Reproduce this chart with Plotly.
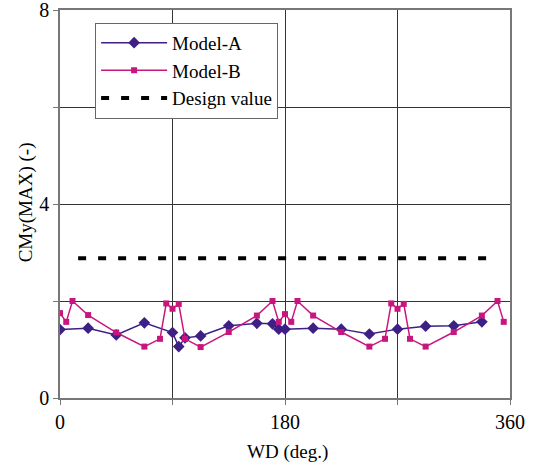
import plotly.graph_objects as go

# Data
wd_a = [0, 22.5, 45, 67.5, 90, 95, 100, 112.5, 135, 157.5, 170, 175, 180,
        202.5, 225, 247.5, 270, 292.5, 315, 337.5]
cmy_a = [1.41, 1.44, 1.30, 1.55, 1.35, 1.06, 1.24, 1.28, 1.49, 1.54, 1.53, 1.42, 1.42,
         1.44, 1.42, 1.32, 1.42, 1.48, 1.49, 1.57]

wd_b = [0, 5, 10, 22.5, 45, 67.5, 80, 85, 90, 95, 100, 112.5, 135, 157.5, 170, 175,
        180, 185, 190, 202.5, 225, 247.5, 260, 265, 270, 275, 280, 292.5, 315, 337.5,
        350, 355]
cmy_b = [1.75, 1.57, 2.00, 1.71, 1.35, 1.06, 1.22, 1.95, 1.84, 1.94, 1.22, 1.05, 1.36,
         1.70, 2.00, 1.57, 1.73, 1.57, 2.00, 1.70, 1.36, 1.06, 1.22, 1.95, 1.84, 1.94,
         1.22, 1.06, 1.36, 1.70, 2.00, 1.57]

design_wd = [14.5, 350]
design_val = [2.88, 2.88]

x_ticks = [0, 90, 180, 270, 360]
x_ticktext = ["0", "", "180", "", "360"]
y_ticks = [0, 2, 4, 6, 8]
y_ticktext = ["0", "", "4", "", "8"]

x_title = "WD (deg.)"
y_title = "CMy(MAX) (-)"

FONT = "Liberation Serif"

fig = go.Figure()
fig.add_trace(go.Scatter(
    x=wd_a, y=cmy_a, mode="lines+markers", name="Model-A",
    line=dict(color="#3d1f86", width=1.5),
    marker=dict(symbol="diamond", size=9, color="#3d1f86"),
))
fig.add_trace(go.Scatter(
    x=wd_b, y=cmy_b, mode="lines+markers", name="Model-B",
    line=dict(color="#c8167f", width=1.5),
    marker=dict(symbol="square", size=6, color="#c8167f"),
))
fig.add_trace(go.Scatter(
    x=design_wd, y=design_val, mode="lines", name="Design value",
    line=dict(color="black", width=4, dash="8px,12px"),
))

fig.update_layout(
    width=535, height=466,
    margin=dict(l=60, r=25, t=10, b=68),
    paper_bgcolor="white", plot_bgcolor="white",
    font=dict(family=FONT, size=20, color="black"),
    showlegend=True,
    legend=dict(
        x=0.078, y=0.967, xanchor="left", yanchor="top",
        bgcolor="white", bordercolor="#666", borderwidth=1,
        font=dict(family=FONT, size=19),
        itemwidth=66, tracegroupgap=0,
    ),
    annotations=[
        dict(text=x_title, xref="paper", yref="paper", x=0.505, y=-0.14,
             xanchor="center", yanchor="middle", showarrow=False,
             font=dict(family=FONT, size=19)),
        dict(text=y_title, xref="paper", yref="paper", x=-0.075, y=0.505,
             xanchor="center", yanchor="middle", showarrow=False, textangle=-90,
             font=dict(family=FONT, size=19)),
    ],
)
fig.update_xaxes(
    range=[0, 360], tickvals=x_ticks, ticktext=x_ticktext,
    showgrid=True, gridcolor="#333", gridwidth=1,
    showline=True, linecolor="#777", linewidth=1.5, mirror=True,
    ticks="outside", ticklen=5, tickcolor="#777",
    zeroline=False, automargin=False, ticklabeloverflow="allow",
)
fig.update_yaxes(
    range=[0, 8], tickvals=y_ticks, ticktext=y_ticktext,
    showgrid=True, gridcolor="#333", gridwidth=1,
    showline=True, linecolor="#777", linewidth=1.5, mirror=True,
    ticks="outside", ticklen=5, tickcolor="#777",
    zeroline=False, automargin=False, ticklabeloverflow="allow",
)

fig.write_html("out.html")
